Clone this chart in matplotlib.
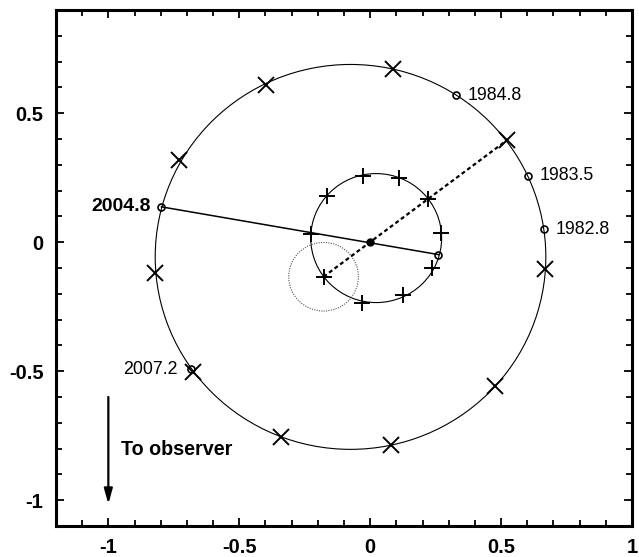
import numpy as np
import matplotlib
matplotlib.use('Agg')
import matplotlib.pyplot as plt
from matplotlib.patches import Circle
from matplotlib.ticker import MultipleLocator, FixedLocator, FixedFormatter

plt.rcParams['font.family'] = ['Liberation Sans', 'DejaVu Sans']

# Outer (companion) orbit
outer_center = (-0.075, -0.057)
outer_radius = 0.746
outer_x = [0.088, -0.398, -0.732, -0.821, -0.676, -0.341, 0.081, 0.477, 0.668, 0.522]
outer_y = [0.673, 0.611, 0.318, -0.121, -0.503, -0.755, -0.788, -0.557, -0.102, 0.395]

# Inner orbit
inner_center = (0.023, 0.016)
inner_radius = 0.25
inner_x = [-0.029, 0.111, -0.165, 0.221, 0.270, -0.226, 0.238, -0.178, 0.127, -0.032]
inner_y = [0.257, 0.249, 0.178, 0.167, 0.036, 0.031, -0.100, -0.134, -0.205, -0.234]

# Dotted error circle
small_center = (-0.178, -0.134)
small_radius = 0.133

# Epoch markers
epoch_x = [0.328, 0.603, 0.665, -0.797, -0.684]
epoch_y = [0.570, 0.258, 0.050, 0.137, -0.492]
epoch_labels = ['1984.8', '1983.5', '1982.8', '2004.8', '2007.2']
inner_epoch = (0.261, -0.048)

# Lines through the centre of mass
solid_x = [-0.797, 0.261]
solid_y = [0.137, -0.048]
dotted_x = [-0.178, 0.522]
dotted_y = [-0.134, 0.395]

xticks = [-1, -0.5, 0, 0.5, 1]
xlabels = ['-1', '-0.5', '0', '0.5', '1']
yticks = [-1, -0.5, 0, 0.5]
ylabels = ['-1', '-0.5', '0', '0.5']

fig = plt.figure(figsize=(6.39, 5.57), dpi=100)
ax = fig.add_axes([0.0876, 0.0557, 0.9014, 0.9263])

ax.add_patch(Circle(outer_center, outer_radius, fill=False, color='black', lw=0.8))
ax.add_patch(Circle(inner_center, inner_radius, fill=False, color='black', lw=0.8))
ax.add_patch(Circle(small_center, small_radius, fill=False, color='#555555',
                    lw=0.8, linestyle=(0, (1, 1.2))))

ax.plot(solid_x, solid_y, color='black', lw=1.1)
ax.plot(dotted_x, dotted_y, color='black', lw=1.6, linestyle=(0, (1.8, 1.3)))

ax.plot(outer_x, outer_y, 'x', color='black', ms=11, mew=1.4)
ax.plot(inner_x, inner_y, '+', color='black', ms=11, mew=1.4)

ax.plot(epoch_x, epoch_y, 'o', mfc='none', mec='black', ms=5, mew=1.2)
ax.plot(inner_epoch[0], inner_epoch[1], 'o', mfc='none', mec='black', ms=5, mew=1.2)
ax.plot(0, 0, 'o', color='black', ms=5)

for x, y, lab in zip(epoch_x, epoch_y, epoch_labels):
    if x > 0:
        ax.annotate(lab, (x, y), xytext=(8, 0), textcoords='offset points',
                    ha='left', va='center', fontsize=12.8)
    elif lab == '2004.8':
        ax.annotate(lab, (x, y), xytext=(-8, 0), textcoords='offset points',
                    ha='right', va='center', fontsize=14, fontweight='bold')
    else:
        ax.annotate(lab, (x, y), xytext=(-10, 0), textcoords='offset points',
                    ha='right', va='center', fontsize=12.8)

# Direction to observer
ax.annotate('', xy=(-1.0, -1.015), xytext=(-1.0, -0.6),
            arrowprops=dict(arrowstyle='-|>,head_length=0.9,head_width=0.25',
                            color='black', lw=1.6, shrinkA=0, shrinkB=0))
ax.text(-0.952, -0.802, 'To observer', fontsize=14.2, fontweight='bold',
        ha='left', va='center')

ax.set_xlim(-1.2, 1.0)
ax.set_ylim(-1.1, 0.9)

ax.xaxis.set_major_locator(FixedLocator(xticks))
ax.xaxis.set_major_formatter(FixedFormatter(xlabels))
ax.yaxis.set_major_locator(FixedLocator(yticks))
ax.yaxis.set_major_formatter(FixedFormatter(ylabels))
ax.xaxis.set_minor_locator(MultipleLocator(0.1))
ax.yaxis.set_minor_locator(MultipleLocator(0.1))

ax.tick_params(which='both', direction='in', top=True, right=True, width=1.3)
ax.tick_params(which='major', length=6, pad=9, labelsize=14.5)
ax.tick_params(which='minor', length=4)
for lab in ax.get_xticklabels() + ax.get_yticklabels():
    lab.set_fontweight('bold')
for sp in ax.spines.values():
    sp.set_linewidth(2.2)

plt.savefig('out.png', dpi=100)
